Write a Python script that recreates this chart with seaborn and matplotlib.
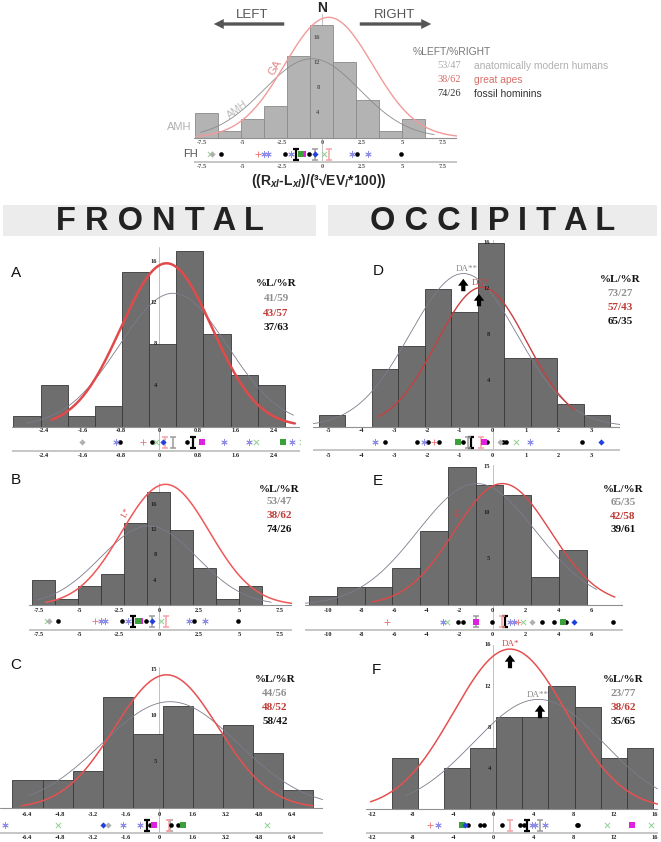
import numpy as np
import pandas as pd
import matplotlib
matplotlib.use("Agg")
import matplotlib.pyplot as plt
import seaborn as sns
from matplotlib.patches import Rectangle, FancyArrowPatch

# ---------------- values ----------------
# histogram counts, (first bin edge, bin width)
top_counts = [4, 1, 3, 5, 13, 18, 12, 6, 1, 3]
top_bin = (-7.95, 1.44)
a_counts = [1, 4, 1, 2, 15, 8, 17, 9, 5, 4]
a_bin = (-3.047, 0.567)
b_counts = [4, 1, 3, 5, 13, 18, 12, 6, 1, 3]
b_bin = (-7.95, 1.44)
c_counts = [3, 3, 4, 12, 8, 11, 8, 9, 6, 2]
c_bin = (-7.10, 1.455)
d_counts = [1, 0, 5, 7, 12, 10, 16, 6, 6, 2, 1]
d_bin = (-5.29, 0.805)
e_counts = [1, 2, 2, 4, 8, 15, 13, 12, 3, 6]
e_bin = (-11.18, 1.69)
f_counts = [5, 0, 4, 6, 9, 9, 12, 10, 5, 6]
f_bin = (-10.03, 2.585)

# fitted normal curves: mean, sd, peak, drawn from, drawn to
top_amh = (-0.65, 3.0, 12.6, -7.6, 7.0)
top_ga = (0.4, 2.75, 19.2, -7.9, 8.6)
a_amh = (0.29, 1.13, 12.9, -2.77, 2.8)
a_ga = (0.15, 0.95, 15.8, -2.25, 2.83)
b_amh = top_amh
b_ga = (0.4, 2.75, 19.2, -7.1, 8.3)
c_amh = (0.52, 3.3, 11.5, -6.34, 7.9)
c_ga = (0.35, 2.5, 14.4, -6.66, 7.45)
d_amh = (-0.89, 1.62, 13.3, -5.45, 3.87)
d_ga = (-0.33, 1.37, 12.1, -3.48, 2.5)
e_amh = (-0.97, 3.6, 13.2, -11.4, 6.33)
e_ga = (0.59, 2.93, 13.2, -7.36, 7.44)
f_amh = (4.47, 6.45, 10.7, -8.68, 16.3)
f_ga = (1.66, 5.6, 15.6, -12.2, 16.3)

# fossil hominin strip (x positions per symbol kind)
b_strip = {'fh': [-6.35, -2.3, -0.8, 2.15, 4.9], 'ast': [-3.62, -3.4, -1.95, 1.85, 2.85],
           'x': [-7.04, 0.1], 'plus': [-4.02], 'msq': [-1.2], 'gsq': [-1.35],
           'bd': [-0.42], 'gd': [-6.9], 'Ik': [-1.66], 'Ig': [-0.47], 'Ip': [0.42]}
a_strip = {'fh': [-0.82, -0.16, 0.57], 'ast': [-0.9, 1.35, 1.87, 2.78],
           'x': [-0.06, 2.01, 2.97], 'plus': [-0.35], 'msq': [0.9], 'gsq': [2.59],
           'bd': [0.07], 'gd': [-1.61], 'Ik': [0.70], 'Ig': [0.28], 'Ip': [0.12]}
c_strip = {'fh': [-0.45, 0.55, 0.9], 'ast': [-7.47, -1.77, -0.94],
           'x': [-4.89, 5.19], 'plus': [], 'msq': [-0.26], 'gsq': [1.13],
           'bd': [-2.71], 'gd': [-2.47], 'Ik': [-0.61], 'Ig': [0.52], 'Ip': [0.45]}
d_strip = {'fh': [-3.26, -2.29, -1.96, -1.63, -0.91, -0.18, 0.3, 0.41, 2.71],
           'ast': [-3.58, -2.08, 1.12], 'x': [0.7], 'plus': [-1.78], 'msq': [-0.25],
           'gsq': [-1.04], 'bd': [3.29], 'gd': [0.22], 'Ik': [-0.66], 'Ig': [-0.74], 'Ip': [-0.37]}
e_strip = {'fh': [-2.13, -1.78, -0.02, 2.98, 3.73, 4.46, 7.3], 'ast': [-3.04, 1.05, 1.32],
           'x': [-2.8, 1.83], 'plus': [-6.45, 1.56], 'msq': [-1.03], 'gsq': [4.3],
           'bd': [4.95], 'gd': [2.37], 'Ik': [0.75], 'Ig': [-1.03], 'Ip': [0.55]}
f_strip = {'fh': [-2.55, -1.32, -0.89, 0.83, 2.65, 3.05, 8.28, 8.44],
           'ast': [-5.53, 3.81, 4.14, 5.13], 'x': [11.26, 15.63], 'plus': [-6.3],
           'msq': [13.74], 'gsq': [-3.15], 'bd': [-2.8], 'gd': [], 'Ik': [3.31],
           'Ig': [4.64], 'Ip': [1.66]}

# %L/%R  (AMH, GA, FH)
a_pct = ['41/59', '43/57', '37/63']
b_pct = ['53/47', '38/62', '74/26']
c_pct = ['44/56', '48/52', '58/42']
d_pct = ['73/27', '57/43', '65/35']
e_pct = ['65/35', '42/58', '39/61']
f_pct = ['23/77', '38/62', '35/65']

top_ticks = [-7.5, -5, -2.5, 0, 2.5, 5, 7.5]
a_ticks = [-2.4, -1.6, -0.8, 0, 0.8, 1.6, 2.4]
c_ticks = [-6.4, -4.8, -3.2, -1.6, 0, 1.6, 3.2, 4.8, 6.4]
d_ticks = [-5, -4, -3, -2, -1, 0, 1, 2, 3]
e_ticks = [-10, -8, -6, -4, -2, 0, 2, 4, 6]
f_ticks = [-12, -8, -4, 0, 4, 8, 12, 16]

# ---------------- drawing ----------------
W, H = 661, 842
sns.set_style('white')
plt.rcParams['font.family'] = ['Liberation Sans', 'DejaVu Sans']
plt.rcParams['mathtext.fontset'] = 'custom'
plt.rcParams['mathtext.rm'] = 'Liberation Sans:bold'
plt.rcParams['mathtext.it'] = 'Liberation Sans:bold:italic'
plt.rcParams['mathtext.bf'] = 'Liberation Sans:bold'

fig = plt.figure(figsize=(W / 100, H / 100), dpi=100)


def fx(p):
    return p / W


def fy(p):
    return 1 - p / H


SERIF = 'Liberation Serif'
STYLE = {
    'ast': dict(marker=(6, 2, 0), s=16, color='#8d8de8', linewidths=0.7),
    'x': dict(marker='x', s=14, color='#8fd08f', linewidths=0.7),
    'plus': dict(marker='+', s=18, color='#f08080', linewidths=0.7),
    'msq': dict(marker='s', s=13, color='#e020e0', linewidths=0),
    'gsq': dict(marker='s', s=13, color='#3aa03a', linewidths=0),
    'bd': dict(marker='D', s=10, color='#2040e0', linewidths=0),
    'gd': dict(marker='D', s=10, color='#b0b0b0', linewidths=0),
    'fh': dict(marker='o', s=11, color='black', linewidths=0),
}
IBAR = {'Ik': ('black', 1.6), 'Ig': ('#9a9a9a', 1.1), 'Ip': ('#f4a3a3', 1.1)}


def panel(g, counts, binspec, amh, ga, strip, ticks, yticks, light=False):
    zx, ux, base, uy = g['zx'], g['ux'], g['base'], g['uy']
    xlo, xhi = g['xlim']
    top_px, bot_px = g['vtop'] - 3, g['lab2'] + 6
    ax = fig.add_axes([fx(zx + xlo * ux), fy(bot_px), (xhi - xlo) * ux / W, (bot_px - top_px) / H])
    ax.set_axis_off()

    def yv(p):
        return (base - p) / uy

    start, width = binspec
    edges = start + width * np.arange(len(counts) + 1)
    hist = pd.DataFrame({'x': edges[:-1] + width / 2, 'n': counts})
    tick_col = '#555555' if light else '#222222'

    ax.plot([0, 0], [yv(g['line2']), yv(g['vtop'])], color='#b5b5b5', lw=0.6, zorder=0)
    sns.histplot(data=hist, x='x', weights='n', bins=edges.tolist(), ax=ax,
                 color='#b3b3b3' if light else '#6e6e6e',
                 edgecolor='#8a8a8a' if light else '#383838',
                 linewidth=0.6, alpha=1, zorder=1)
    gray_col = '#8a8a8a' if light else '#7c7c8c'
    for (mu, sd, pk, lo, hi), col, lw in [(amh, gray_col, 0.6), (ga, g['red'], g['rlw'])]:
        xs = np.linspace(lo, hi, 300)
        sns.lineplot(x=xs, y=pk * np.exp(-0.5 * ((xs - mu) / sd) ** 2), ax=ax,
                     color=col, lw=lw, zorder=3)

    ax.plot([xlo, xhi], [0, 0], color='#909090', lw=0.8, zorder=2)
    ax.plot([xlo, xhi], [yv(g['line2'])] * 2, color='#c6c6c6', lw=1.4, zorder=2)
    for t in ticks:
        for lab in ('lab1', 'lab2'):
            ax.text(t, yv(g[lab]), f'{t:g}', ha='center', va='center', fontsize=4.6,
                    family=SERIF, fontweight='bold', color=tick_col)
    for v in yticks:
        ax.text(-2.5 / ux, v, str(v), ha='right', va='center', fontsize=4.6,
                family=SERIF, fontweight='bold', color=tick_col)

    row = yv(g['row'])
    for kind, xs in strip.items():
        if kind in IBAR:
            col, lw = IBAR[kind]
            ax.errorbar(xs, [row] * len(xs), yerr=5.5 / uy, fmt='none', ecolor=col,
                        elinewidth=lw, capsize=2.3, capthick=lw, zorder=4)
        elif xs:
            ax.scatter(xs, [row] * len(xs), zorder=5, **STYLE[kind])
    ax.set_xlim(xlo, xhi)
    ax.set_ylim(yv(bot_px), yv(top_px))
    return ax


def legend(x, ys, pct):
    fig.text(fx(x), fy(ys[0]), '%L/%R', ha='center', va='center', fontsize=8,
             family=SERIF, fontweight='bold', color='#111111')
    for y, s, c in zip(ys[1:], pct, ['#8e8e8e', '#bf3b36', '#111111']):
        fig.text(fx(x), fy(y), s, ha='center', va='center', fontsize=8,
                 family=SERIF, fontweight='bold', color=c)


def up_arrow(x, y0, y1, col='black'):
    fig.add_artist(FancyArrowPatch((fx(x), fy(y0)), (fx(x), fy(y1)), transform=fig.transFigure,
                                   arrowstyle='simple,head_width=0.75,head_length=0.5,tail_width=0.3',
                                   mutation_scale=10, color=col, lw=0))


# panel geometry (pixel layout)
G_TOP = dict(zx=322.2, ux=16.0, base=137.7, uy=6.27, xlim=(-8.0, 8.45), vtop=14,
             row=154, line2=162, lab1=142, lab2=166, red='#f29a9a', rlw=1.0)
G_A = dict(zx=159.3, ux=47.9, base=426.5, uy=10.33, xlim=(-3.08, 2.94), vtop=247,
           row=442, line2=450.7, lab1=430.7, lab2=455, red='#e04a4a', rlw=1.8)
G_B = dict(zx=159.2, ux=16.0, base=605.3, uy=6.3, xlim=(-8.16, 8.31), vtop=483,
           row=621.3, line2=630, lab1=610, lab2=635, red='#f05858', rlw=1.1)
G_C = dict(zx=159.3, ux=20.68, base=808.3, uy=9.27, xlim=(-7.7, 7.9), vtop=666.7,
           row=825, line2=833.3, lab1=814, lab2=837.3, red='#e85050', rlw=1.1)
G_D = dict(zx=492.7, ux=32.9, base=426.5, uy=11.5, xlim=(-5.46, 3.88), vtop=240,
           row=442.3, line2=450, lab1=430.7, lab2=455, red='#c84040', rlw=1.0)
G_E = dict(zx=492.7, ux=16.43, base=605, uy=9.2, xlim=(-11.4, 7.95), vtop=465,
           row=621.7, line2=630, lab1=610, lab2=635, red='#e04848', rlw=1.0)
G_F = dict(zx=493.3, ux=10.07, base=809.3, uy=10.27, xlim=(-12.6, 16.35), vtop=645,
           row=825, line2=833.3, lab1=814, lab2=837.3, red='#e85050', rlw=1.1)

panel(G_TOP, top_counts, top_bin, top_amh, top_ga, b_strip, top_ticks, [4, 8, 12, 16], light=True)
panel(G_A, a_counts, a_bin, a_amh, a_ga, a_strip, a_ticks, [4, 8, 12, 16])
panel(G_B, b_counts, b_bin, b_amh, b_ga, b_strip, top_ticks, [4, 8, 12, 16])
panel(G_C, c_counts, c_bin, c_amh, c_ga, c_strip, c_ticks, [5, 10, 15])
panel(G_D, d_counts, d_bin, d_amh, d_ga, d_strip, d_ticks, [4, 8, 12, 16])
panel(G_E, e_counts, e_bin, e_amh, e_ga, e_strip, e_ticks, [5, 10, 15])
panel(G_F, f_counts, f_bin, f_amh, f_ga, f_strip, f_ticks, [4, 8, 12, 16])

# ---- top panel annotations ----
fig.text(fx(322), fy(8), 'N', ha='center', va='center', fontsize=10, fontweight='bold')
fig.text(fx(252), fy(15), 'LEFT', ha='center', va='center', fontsize=9.5, color='#555555')
fig.text(fx(395), fy(15), 'RIGHT', ha='center', va='center', fontsize=9.5, color='#555555')
for a, b in [(287, 211), (357, 434)]:
    fig.add_artist(FancyArrowPatch((fx(a), fy(24)), (fx(b), fy(24)), transform=fig.transFigure,
                                   arrowstyle='simple,head_width=0.72,head_length=0.72,tail_width=0.24',
                                   mutation_scale=10, color='#555555', lw=0))
fig.text(fx(413), fy(52), '%LEFT/%RIGHT', ha='left', va='center', fontsize=7.4, color='#777777')
for y, num, lab, c1, c2 in [(66, b_pct[0], 'anatomically modern humans', '#a8a8a8', '#b0b0b0'),
                            (80, b_pct[1], 'great apes', '#d46a64', '#d9706a'),
                            (94, b_pct[2], 'fossil hominins', '#333333', '#333333')]:
    fig.text(fx(437), fy(y), num, ha='left', va='center', fontsize=7.5, family=SERIF, color=c1)
    fig.text(fx(474), fy(y), lab, ha='left', va='center', fontsize=7.4, color=c2)
fig.text(fx(179), fy(127), 'AMH', ha='center', va='center', fontsize=8, color='#b0b0b0')
fig.text(fx(238), fy(110), 'AMH', ha='center', va='center', fontsize=7.5, color='#b8b8b8', rotation=36)
fig.text(fx(275), fy(68), 'GA', ha='center', va='center', fontsize=8, color='#e08888', rotation=58)
fig.text(fx(191), fy(154), 'FH', ha='center', va='center', fontsize=8, color='#555555')
fig.text(fx(319), fy(180), r'((R$_{xl}$-L$_{xl}$)/(³√EV$_{l}$*100))', ha='center', va='center',
         fontsize=10, fontweight='bold')

# ---- section headers ----
for x0, x1, word in [(3, 316, 'FRONTAL'), (328, 657, 'OCCIPITAL')]:
    fig.add_artist(Rectangle((fx(x0), fy(236)), (x1 - x0) / W, 31 / H, transform=fig.transFigure,
                             color='#ececec', lw=0))
    fig.text(fx((x0 + x1) / 2), fy(221), ' '.join(word), ha='center', va='center',
             fontsize=23.5, fontweight='bold', color='#222222')

# ---- panel letters and legends ----
for let, x, y in [('A', 16, 273), ('B', 16, 480), ('C', 16, 665),
                  ('D', 378, 271), ('E', 378, 481), ('F', 376, 670)]:
    fig.text(fx(x), fy(y), let, ha='center', va='center', fontsize=11, color='#111111')
legend(276, [284, 298, 313, 327], a_pct)
legend(279, [489, 502, 516, 530], b_pct)
legend(275, [680, 693.3, 707.7, 721], c_pct)
legend(620, [280, 293, 307.7, 321], d_pct)
legend(623, [489, 502.7, 516.7, 530], e_pct)
legend(623, [680, 693.3, 707.7, 721], f_pct)

# ---- DA arrows and curve labels ----
fig.text(fx(467), fy(269), 'DA**', ha='center', va='center', fontsize=6.5, family=SERIF, color='#8a8a8a')
up_arrow(463.3, 294, 276)
fig.text(fx(480), fy(283), 'DA*', ha='center', va='center', fontsize=6.5, family=SERIF, color='#c84040')
up_arrow(479, 309, 291)
fig.text(fx(510), fy(644), 'DA*', ha='center', va='center', fontsize=6.5, family=SERIF, color='#d84848')
up_arrow(510, 671, 652)
fig.text(fx(538), fy(695), 'DA**', ha='center', va='center', fontsize=6.5, family=SERIF, color='#8a8a8a')
up_arrow(540, 721, 702)
fig.text(fx(126), fy(513), 'L*', ha='center', va='center', fontsize=6.5, family=SERIF,
         color='#e05050', rotation=62)
fig.text(fx(459), fy(513), 'S*', ha='center', va='center', fontsize=6.5, family=SERIF,
         color='#d04848', rotation=68)

fig.savefig('out.png', dpi=100)
